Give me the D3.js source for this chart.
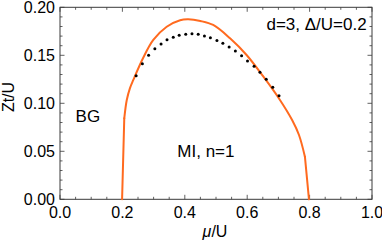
<!DOCTYPE html>
<html><head><meta charset="utf-8">
<script src="https://cdn.jsdelivr.net/npm/d3@7"></script>
<style>
html,body{margin:0;padding:0;background:#fff;}
svg text{font-family:"Liberation Sans",Arial,sans-serif;fill:#000;}
</style></head>
<body><svg id="c" width="382" height="247"></svg>
<script>
// phase boundary (solid orange)
const boundaryMu = [0.199,0.206,0.214,0.224,0.235,0.266,0.299,0.342,0.385,0.411,0.450,0.491,0.545,0.598,0.652,0.705,0.744,0.766,0.785,0.798];
const boundaryZt = [0.000,0.0844,0.1034,0.1156,0.1243,0.1469,0.1660,0.1798,0.1866,0.1875,0.1857,0.1816,0.1677,0.1503,0.1277,0.1035,0.0826,0.0670,0.0444,0.000];
// numerical points (black dots)
const dotMu = [0.244,0.264,0.284,0.304,0.324,0.343,0.363,0.382,0.403,0.423,0.443,0.463,0.482,0.503,0.522,0.542,0.562,0.582,0.601,0.622,0.641,0.661,0.682,0.702];
const dotZt = [0.1288,0.1413,0.1500,0.1569,0.1618,0.1663,0.1688,0.1708,0.1719,0.1724,0.1719,0.1701,0.1683,0.1654,0.1625,0.1586,0.1545,0.1496,0.1441,0.1385,0.1323,0.1250,0.1167,0.1079];
const xTickLabels = ["0.0","0.2","0.4","0.6","0.8","1.0"];
const yTickLabels = ["0.00","0.05","0.10","0.15","0.20"];
const annotations = [
  {text:"d=3, Δ/U=0.2", mu:0.983, zt:0.1764, anchor:"end"},
  {text:"BG", mu:0.05, zt:0.081, anchor:"start"},
  {text:"MI, n=1", mu:0.376, zt:0.044, anchor:"start"}
];

const svg = d3.select("#c");
const L=60, R=372, T=7.3, B=199.3;
const x = d3.scaleLinear().domain([0,1]).range([L,R]);
const y = d3.scaleLinear().domain([0,0.2]).range([B,T]);
const frameColor="#3a3a3a";

// ticks
const xMinor = d3.range(0,1.0001,0.05);
const yMinor = d3.range(0,0.20001,0.01);
const g = svg.append("g").attr("stroke",frameColor).attr("stroke-width",0.8);
xMinor.forEach(v=>{
  const major = Math.abs(Math.round(v*5)-v*5)<1e-6;
  const len = major?4.5:2.5;
  g.append("line").attr("x1",x(v)).attr("x2",x(v)).attr("y1",B).attr("y2",B-len);
  g.append("line").attr("x1",x(v)).attr("x2",x(v)).attr("y1",T).attr("y2",T+len);
});
yMinor.forEach(v=>{
  const major = Math.abs(Math.round(v*20)-v*20)<1e-6;
  const len = major?4.5:2.5;
  g.append("line").attr("y1",y(v)).attr("y2",y(v)).attr("x1",L).attr("x2",L+len);
  g.append("line").attr("y1",y(v)).attr("y2",y(v)).attr("x1",R).attr("x2",R-len);
});
svg.append("rect").attr("x",L).attr("y",T).attr("width",R-L).attr("height",B-T)
  .attr("fill","none").attr("stroke",frameColor).attr("stroke-width",1);

// tick labels
xTickLabels.forEach(t=>{
  svg.append("text").attr("x",x(+t)).attr("y",B+19).attr("text-anchor","middle")
    .attr("font-size",16).text(t);
});
yTickLabels.forEach(t=>{
  svg.append("text").attr("x",L-5).attr("y",y(+t)+5.8).attr("text-anchor","end")
    .attr("font-size",16).text(t);
});

// axis labels
svg.append("text").attr("transform",`translate(13.5,97) rotate(-90)`)
  .attr("text-anchor","middle").attr("font-size",16).text("Zt/U");
const xl = svg.append("text").attr("x",(L+R)/2-1).attr("y",237).attr("text-anchor","middle").attr("font-size",16);
xl.append("tspan").attr("font-style","italic").text("μ");
xl.append("tspan").text("/U");

// boundary line: straight end segments, smooth middle
const pts = boundaryMu.map((m,i)=>[m,boundaryZt[i]]);
const n = pts.length;
const lineLin = d3.line().x(d=>x(d[0])).y(d=>y(d[1]));
const lineSmooth = d3.line().x(d=>x(d[0])).y(d=>y(d[1])).curve(d3.curveCatmullRom.alpha(0.5));
const styleLine = p => p.attr("fill","none").attr("stroke","#ff6a1f").attr("stroke-width",2)
  .attr("stroke-linejoin","round").attr("stroke-linecap","round");
styleLine(svg.append("path").attr("d", lineLin(pts.slice(0,2))));
styleLine(svg.append("path").attr("d", lineSmooth(pts.slice(1,n-1))));
styleLine(svg.append("path").attr("d", lineLin(pts.slice(n-2))));

// dots
svg.append("g").selectAll("circle").data(dotMu.map((m,i)=>[m,dotZt[i]])).join("circle")
  .attr("cx",d=>x(d[0])).attr("cy",d=>y(d[1])).attr("r",1.5).attr("fill","#000");

// annotations
annotations.forEach(a=>{
  svg.append("text").attr("x",x(a.mu)).attr("y",y(a.zt)).attr("text-anchor",a.anchor)
    .attr("font-size",17).text(a.text);
});
</script></body></html>
